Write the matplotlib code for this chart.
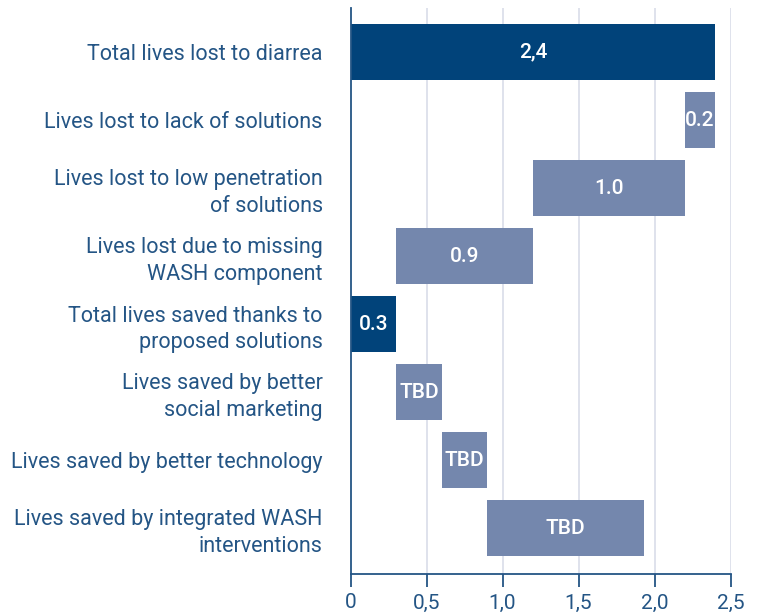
import matplotlib
matplotlib.use("Agg")
import matplotlib.pyplot as plt

categories = [
    "Total lives lost to diarrea",
    "Lives lost to lack of solutions",
    "Lives lost to low penetration\nof solutions",
    "Lives lost due to missing\nWASH component",
    "Total lives saved thanks to\nproposed solutions",
    "Lives saved by better\nsocial marketing",
    "Lives saved by better technology",
    "Lives saved by integrated WASH\ninterventions",
]
total_lost = 2.4
lost_parts = [0.2, 1.0, 0.9]
total_saved = 0.3
saved_parts = [0.3, 0.3, 1.03]
bar_labels = ["2,4", "0.2", "1.0", "0.9", "0.3", "TBD", "TBD", "TBD"]
xticks = [0, 0.5, 1.0, 1.5, 2.0, 2.5]
xtick_labels = ["0", "0,5", "1,0", "1,5", "2,0", "2,5"]

DARK = "#01437a"
LIGHT = "#7487ad"
TEXT = "#245585"
GRID = "#d9dde9"

# Build waterfall segments: (left, width, color)
segments = [(0.0, total_lost, DARK)]
pos = total_lost
for v in lost_parts:
    pos -= v
    segments.append((pos, v, LIGHT))
segments.append((0.0, total_saved, DARK))
pos = total_saved
for v in saved_parts:
    segments.append((pos, v, LIGHT))
    pos += v

plt.rcParams["font.family"] = ["Roboto", "DejaVu Sans"]

fig = plt.figure(figsize=(7.57, 6.16), dpi=100)
ax = fig.add_axes([350.5 / 757, 1 - 574 / 616, (730.5 - 350.5) / 757, (574 - 8) / 616])

ys = list(range(len(categories)))
for y, (left, width, color), lab in zip(ys, segments, bar_labels):
    ax.barh(y, width, left=left, height=56 / 68, color=color, zorder=3)
    ax.text(left + width / 2, y, lab, ha="center", va="center",
            color="white", fontsize=15, fontweight="medium", zorder=4)

ax.set_xlim(0, 2.5)
ax.set_ylim(7 + 46 / 68, -44 / 68)
ax.set_xticks(xticks)
ax.set_xticklabels(xtick_labels, fontsize=15, color=TEXT)
ax.set_yticks(ys)
ax.set_yticklabels(categories, fontsize=15.5, color=TEXT, linespacing=1.35)
ax.tick_params(axis="y", length=0, pad=20)
ax.tick_params(axis="x", length=9, width=1.3, color=TEXT, pad=5, direction="out")

for s in ["top", "right"]:
    ax.spines[s].set_visible(False)
for s in ["left", "bottom"]:
    ax.spines[s].set_color(TEXT)
    ax.spines[s].set_linewidth(1.3)
    ax.spines[s].set_zorder(5)

for x in xticks[1:]:
    ax.axvline(x, color=GRID, linewidth=1.2, zorder=1)

fig.savefig("out.png", dpi=100)
